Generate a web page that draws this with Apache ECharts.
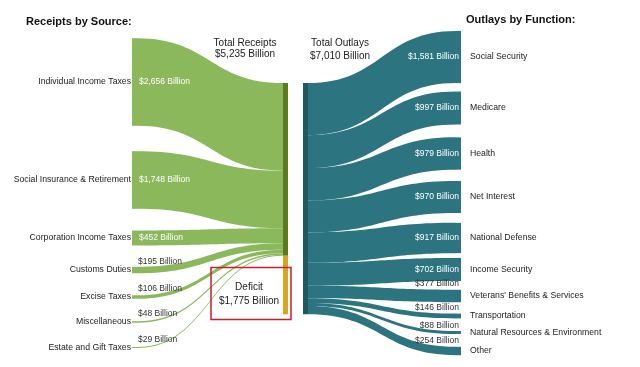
<!DOCTYPE html>
<html><head><meta charset="utf-8">
<script src="https://cdn.jsdelivr.net/npm/echarts@6/dist/echarts.min.js"></script>
<style>html,body{margin:0;padding:0;background:#fff}#c{width:640px;height:367px}</style>
</head><body><div id="c"></div>
<script>
// ---------- data ----------
const sourceNames = ['Individual Income Taxes','Social Insurance & Retirement','Corporation Income Taxes','Customs Duties','Excise Taxes','Miscellaneous','Estate and Gift Taxes'];
const sourceValues = [2656,1748,452,195,106,48,29];
const functionNames = ['Social Security','Medicare','Health','Net Interest','National Defense','Income Security',"Veterans' Benefits & Services",'Transportation','Natural Resources & Environment','Other'];
const functionValues = [1581,997,979,970,917,702,377,146,88,254];
const totalReceipts = 5235;
const deficitValue = 1775;
const totalOutlays = 7010;

// ---------- layout (positions / styles only) ----------
const H = 367;
const LEFT = 132, NODE_W = 5, RIGHT_X = 456;
const LAYOUT_W = RIGHT_X + NODE_W - LEFT;
const K = 0.033; // px per billion (scale chosen through nodeGap)
const sumF = functionValues.reduce((a,b)=>a+b,0);
const NODE_GAP = (H - K*sumF)/(functionValues.length-1);
const sourceCenters = [82,180,238,270,297,322,347.5];
const sourceSmall = [false,false,false,true,true,true,true];
const functionCenters = [57,108,153.5,197,238,269.5,296,316,332.5,351];
const functionSmallOffset = [0,0,0,0,0,0,12,8,6.5,10];
const MID_TOP = 83;
const X_RECEIPTS = 283, X_OUTLAYS = 303;

const GREEN = '#8cb85c', OLIVE = '#5a7d1c', GOLD = '#d9a520', DTEAL = '#1f5a5e', TEAL = '#2b7480';
const FONT = 'Liberation Sans, Arial, sans-serif';
const TXT = '#222';
const NAME_FS = 8.7;

const fmt = v => '$' + v.toLocaleString('en-US') + ' Billion';
const valueByName = {};
sourceNames.forEach((n,i)=>valueByName[n]=sourceValues[i]);
functionNames.forEach((n,i)=>valueByName[n]=functionValues[i]);

function buildNodes(forValues) {
  const nodes = [];
  sourceNames.forEach((n,i)=>{
    const h = sourceValues[i]*K;
    let label;
    if (!forValues) label = {show:true, position:'left', distance:1, color:TXT, fontSize:NAME_FS, fontFamily:FONT};
    else if (!sourceSmall[i]) label = {show:true, position:[7,'50%'], align:'left', verticalAlign:'middle', color:'#fff', fontSize:8.5, fontFamily:FONT, formatter: p=>fmt(valueByName[p.name])};
    else label = {show:true, position:[6,'50%'], align:'left', verticalAlign:'middle', offset:[0,-8], color:'#333', fontSize:8.5, fontFamily:FONT, formatter: p=>fmt(valueByName[p.name])};
    nodes.push({name:n, depth:0, localX:0, localY:(sourceCenters[i]-h/2)/H, itemStyle:{color:GREEN}, label});
  });
  nodes.push({name:'Total Receipts', depth:1, localX:(X_RECEIPTS-LEFT)/LAYOUT_W, localY:MID_TOP/H, itemStyle:{color:OLIVE}, label:{show:false}});
  nodes.push({name:'Deficit', depth:1, localX:(X_RECEIPTS-LEFT)/LAYOUT_W, localY:(MID_TOP+totalReceipts*K)/H, itemStyle:{color:GOLD}, label:{show:false}});
  nodes.push({name:'Total Outlays', depth:2, localX:(X_OUTLAYS-LEFT)/LAYOUT_W, localY:MID_TOP/H, itemStyle:{color:DTEAL}, label:{show:false}});
  functionNames.forEach((n,i)=>{
    const h = functionValues[i]*K;
    let label;
    if (!forValues) label = {show:true, position:'right', distance:9, color:TXT, fontSize:NAME_FS, fontFamily:FONT};
    else if (!functionSmallOffset[i]) label = {show:true, position:[3,'50%'], align:'right', verticalAlign:'middle', color:'#fff', fontSize:8.5, fontFamily:FONT, formatter: p=>fmt(valueByName[p.name])};
    else label = {show:true, position:[3,'50%'], align:'right', verticalAlign:'middle', offset:[0,-functionSmallOffset[i]], color:'#333', fontSize:8.5, fontFamily:FONT, formatter: p=>fmt(valueByName[p.name])};
    nodes.push({name:n, depth:3, localX:(RIGHT_X-LEFT)/LAYOUT_W, localY:(functionCenters[i]-h/2)/H, itemStyle:{color:TEAL}, label});
  });
  if (forValues) nodes.forEach(nd=>{ nd.itemStyle = {opacity:0}; });
  return nodes;
}

function buildLinks(forValues) {
  const links = [];
  sourceNames.forEach((n,i)=>links.push({source:n, target:'Total Receipts', value:sourceValues[i], lineStyle:{color:GREEN, opacity:forValues?0:1}}));
  links.push({source:'Total Receipts', target:'Total Outlays', value:totalReceipts, lineStyle:{opacity:0}});
  links.push({source:'Deficit', target:'Total Outlays', value:deficitValue, lineStyle:{opacity:0}});
  functionNames.forEach((n,i)=>links.push({source:'Total Outlays', target:n, value:functionValues[i], lineStyle:{color:TEAL, opacity:forValues?0:1}}));
  return links;
}

function sankey(forValues) {
  return {
    type:'sankey', left:LEFT, top:0, width:LAYOUT_W, height:H,
    nodeWidth:NODE_W, nodeGap:NODE_GAP, layoutIterations:0, draggable:false,
    silent: forValues, emphasis:{disabled:true}, z: forValues ? 3 : 2,
    lineStyle:{curveness:0.5, opacity:1},
    data: buildNodes(forValues), links: buildLinks(forValues)
  };
}

const chart = echarts.init(document.getElementById('c'), null, {renderer:'canvas'});
chart.setOption({
  animation:false,
  backgroundColor:'#fff',
  series:[sankey(false), sankey(true)],
  graphic:[
    {type:'text', x:26, y:22, z:10, style:{text:'Receipts by Source:', font:'bold 11px '+FONT, fill:'#111', align:'left', verticalAlign:'middle'}},
    {type:'text', x:466, y:20, z:10, style:{text:'Outlays by Function:', font:'bold 11px '+FONT, fill:'#111', align:'left', verticalAlign:'middle'}},
    {type:'text', x:245, y:49, z:10, style:{text:'Total Receipts\n' + fmt(totalReceipts), font:'10px '+FONT, fill:TXT, align:'center', verticalAlign:'middle', lineHeight:11}},
    {type:'text', x:340, y:50, z:10, style:{text:'Total Outlays\n' + fmt(totalOutlays), font:'10px '+FONT, fill:TXT, align:'center', verticalAlign:'middle', lineHeight:13}},
    {type:'rect', z:10, shape:{x:211, y:267.5, width:80, height:52}, style:{fill:'none', stroke:'#cc1e2a', lineWidth:1.5}},
    {type:'text', x:249, y:294, z:10, style:{text:'Deficit\n' + fmt(deficitValue), font:'10px '+FONT, fill:TXT, align:'center', verticalAlign:'middle', lineHeight:14}}
  ]
});
</script>
</body></html>
